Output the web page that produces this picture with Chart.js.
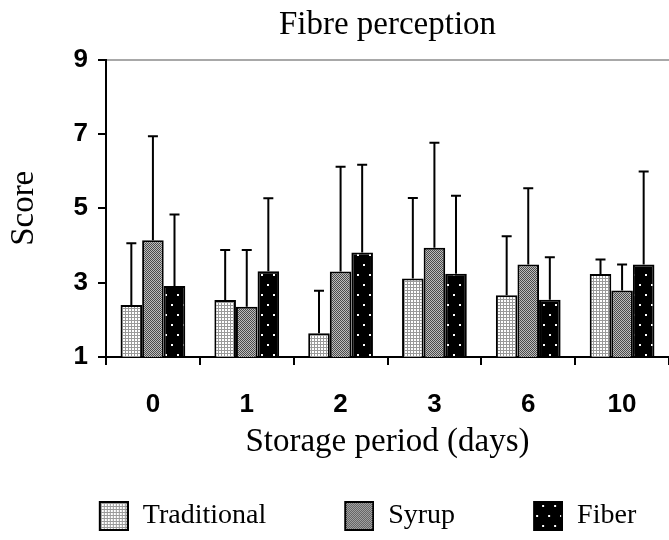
<!DOCTYPE html>
<html>
<head>
<meta charset="utf-8">
<script src="https://cdn.jsdelivr.net/npm/chart.js@4.4.1/dist/chart.umd.min.js"></script>
<style>
  html, body { margin: 0; padding: 0; background: #fff; }
</style>
</head>
<body>
<canvas id="c" width="669" height="540"></canvas>
<script>
'use strict';

// ── Data ─────────────────────────────────────────────────────────────────────
const days          = ['0', '1', '2', '3', '6', '10'];
const seriesNames   = ['Traditional', 'Syrup', 'Fiber'];
const traditional   = [2.40, 2.53, 1.64, 3.11, 2.66, 3.23];
const syrup         = [4.14, 2.35, 3.30, 3.94, 3.49, 2.79];
const fiber         = [2.91, 3.31, 3.81, 3.24, 2.54, 3.49];
const traditionalSd = [1.66, 1.35, 1.14, 2.17, 1.59, 0.39];
const syrupSd       = [2.80, 1.53, 2.82, 2.82, 2.05, 0.70];
const fiberSd       = [1.92, 1.96, 2.36, 2.10, 1.14, 2.50];
const yTicks        = [1, 3, 5, 7, 9];

const SERIF = '"Liberation Serif", "Times New Roman", serif';
const SANS  = '"Liberation Sans", Arial, sans-serif';

// ── Hatch patterns ────────────────────────────────────────────────────────────
function makeTile(w, h, draw) {
  const t = document.createElement('canvas');
  t.width = w; t.height = h;
  draw(t.getContext('2d'));
  return t;
}

const tiles = [
  makeTile(3, 3, c => {
    c.fillStyle = '#9a9a9a'; c.fillRect(0, 0, 3, 3);
    c.fillStyle = '#ffffff'; c.fillRect(0, 0, 2, 2);
  }),
  makeTile(2, 2, c => {
    c.fillStyle = '#bdbdbd'; c.fillRect(0, 0, 2, 2);
    c.fillStyle = '#4a4a4a'; c.fillRect(0, 0, 1, 1); c.fillRect(1, 1, 1, 1);
  }),
  makeTile(12, 20, c => {
    c.fillStyle = '#000000'; c.fillRect(0, 0, 12, 20);
    c.fillStyle = '#ffffff'; c.fillRect(3, 4, 2, 2); c.fillRect(9, 14, 2, 2);
  }),
];

const canvas = document.getElementById('c');
const patterns = tiles.map(t => canvas.getContext('2d').createPattern(t, 'repeat'));

// legend icon: box drawn at right end of a wider transparent canvas
const ICON_W = 96;
function makeIcon(tile) {
  const c = document.createElement('canvas');
  c.width = ICON_W; c.height = 30;
  const g = c.getContext('2d');
  g.fillStyle = g.createPattern(tile, 'repeat');
  g.fillRect(ICON_W - 30, 0, 30, 30);
  g.strokeStyle = '#000'; g.lineWidth = 2;
  g.strokeRect(ICON_W - 29, 1, 28, 28);
  return c;
}
const icons = tiles.map(makeIcon);

// ── Error bars (upper whisker only) ───────────────────────────────────────────
const sds = [traditionalSd, syrupSd, fiberSd];
const errorBars = {
  id: 'errorBars',
  afterDatasetsDraw(chart) {
    const { ctx, scales: { y } } = chart;
    ctx.save();
    ctx.strokeStyle = '#000';
    ctx.lineWidth = 2;
    chart.data.datasets.forEach((ds, di) => {
      chart.getDatasetMeta(di).data.forEach((bar, i) => {
        const top = y.getPixelForValue(ds.data[i] + sds[di][i]);
        ctx.beginPath();
        ctx.moveTo(bar.x, bar.y); ctx.lineTo(bar.x, top);
        ctx.moveTo(bar.x - 5, top); ctx.lineTo(bar.x + 5, top);
        ctx.stroke();
      });
    });
    ctx.restore();
  },
};

// ── Chart ─────────────────────────────────────────────────────────────────────
new Chart(canvas, {
  type: 'bar',
  data: {
    labels: days,
    datasets: [traditional, syrup, fiber].map((d, i) => ({
      label: seriesNames[i],
      data: d,
      backgroundColor: patterns[i],
      borderColor: '#000',
      borderWidth: 2,
      categoryPercentage: 0.69,
      barPercentage: 1,
    })),
  },
  options: {
    responsive: false,
    animation: false,
    layout: { padding: 0 },
    plugins: {
      title: {
        display: true,
        text: 'Fibre perception',
        color: '#000',
        fullSize: false,
        font: { family: SERIF, size: 33, weight: 'normal' },
        padding: { top: 6, bottom: 14 },
      },
      legend: {
        position: 'bottom',
        labels: {
          color: '#000',
          font: { family: SERIF, size: 28 },
          usePointStyle: true,
          pointStyleWidth: ICON_W,
          boxHeight: 28,
          padding: 12,
          generateLabels: chart => chart.data.datasets.map((ds, i) => ({
            text: ds.label,
            pointStyle: icons[i],
            fillStyle: patterns[i],
            strokeStyle: '#000',
            lineWidth: 0,
            hidden: false,
            datasetIndex: i,
            fontColor: '#000',
          })),
        },
      },
      tooltip: { enabled: false },
    },
    scales: {
      x: {
        afterFit: axis => { axis.height = 133; },
        grid: { offset: true, drawOnChartArea: false, color: '#000', lineWidth: 2, tickLength: 8 },
        border: { color: '#000', width: 2 },
        ticks: { color: '#000', font: { family: SANS, size: 26, weight: 'bold' }, padding: 24 },
        title: {
          display: true,
          text: 'Storage period (days)',
          color: '#000',
          font: { family: SERIF, size: 33 },
          padding: { top: 2, bottom: 28 },
        },
      },
      y: {
        min: 1,
        max: 9,
        afterFit: axis => { axis.width = 106; },
        afterBuildTicks: axis => { axis.ticks = yTicks.map(v => ({ value: v })); },
        grid: {
          color: ctx => (ctx.tick && ctx.tick.value === 9 ? '#a8a8a8' : 'rgba(0,0,0,0)'),
          tickColor: '#000',
          lineWidth: 2,
          tickLength: 8,
        },
        border: { color: '#000', width: 2 },
        ticks: { color: '#000', font: { family: SANS, size: 26, weight: 'bold' }, padding: 10 },
        title: {
          display: true,
          text: 'Score',
          color: '#000',
          font: { family: SERIF, size: 33 },
          padding: { top: 5, bottom: 0 },
        },
      },
    },
  },
  plugins: [errorBars],
});
</script>
</body>
</html>
